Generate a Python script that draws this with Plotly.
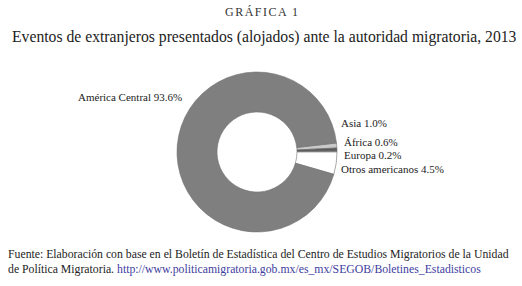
import plotly.graph_objects as go

categories = ["Asia", "África", "Europa", "Otros americanos", "América Central"]
values = [1.0, 0.6, 0.2, 4.5, 93.6]
colors = ["#c9c9c9", "#5a5a5a", "#a8a8a8", "#ffffff", "#7f7f7f"]

title_kicker = "GRÁFICA 1"
title_main = "Eventos de extranjeros presentados (alojados) ante la autoridad migratoria, 2013"
source_line1 = "Fuente: Elaboración con base en el Boletín de Estadística del Centro de Estudios Migratorios de la Unidad"
source_line2 = "de Política Migratoria. "
source_url = "http://www.politicamigratoria.gob.mx/es_mx/SEGOB/Boletines_Estadisticos"

W, H = 522, 286
FONT = "Liberation Serif"

fig = go.Figure(go.Pie(
    labels=categories,
    values=values,
    hole=0.5,
    sort=False,
    direction="clockwise",
    rotation=90 - sum(values[:3]) / sum(values) * 360,
    marker=dict(colors=colors, line=dict(color="#6e6e6e", width=0.6)),
    textinfo="none",
    hoverinfo="label+percent",
    showlegend=False,
    domain=dict(x=[177 / W, 337 / W], y=[1 - 232 / H, 1 - 72 / H]),
))

def lab(i):
    return f"{categories[i]} {values[i]:.1f}%"

ann = []
def add(text, x, y, xanchor="left", size=11, color="#222222"):
    ann.append(dict(text=text, x=x / W, y=1 - y / H, xref="paper", yref="paper",
                    xanchor=xanchor, yanchor="middle", showarrow=False,
                    font=dict(family=FONT, size=size, color=color)))

add(lab(4), 184, 97, xanchor="right")
add(lab(0), 339, 123)
add(lab(1), 342, 142)
add(lab(2), 342, 155)
add(lab(3), 339, 169)

add(f"<span style='letter-spacing:1.5px'>{title_kicker}</span>", 262, 12, xanchor="center", size=12, color="#333333")
add(title_main, 264, 37, xanchor="center", size=15.7, color="#222222")
add(source_line1, 6, 254, size=11.75)
add(source_line2 + f"<span style='color:#3d3d9e'>{source_url}</span>", 6, 269, size=11.75)

fig.update_layout(
    width=W, height=H,
    margin=dict(l=0, r=0, t=0, b=0),
    paper_bgcolor="white",
    plot_bgcolor="white",
    annotations=ann,
)

fig.write_html("out.html", config={"displayModeBar": False},
               post_script="document.body.style.margin='0';")
